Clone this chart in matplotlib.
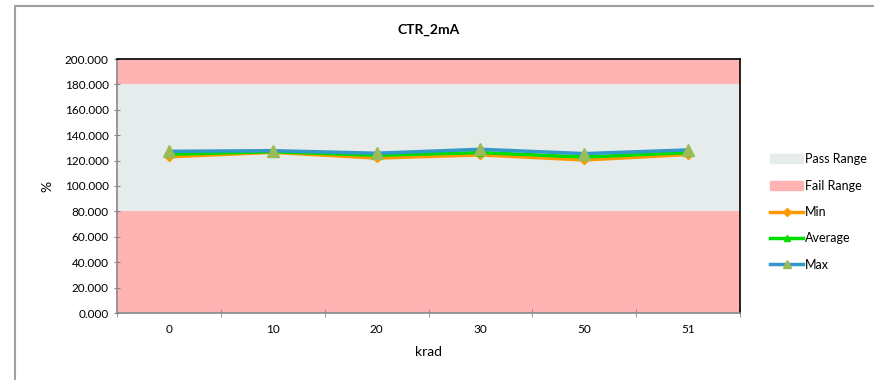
import matplotlib.pyplot as plt
from matplotlib.patches import Patch
from matplotlib.lines import Line2D
from matplotlib.patches import Rectangle

plt.rcParams['font.family'] = ['Lato', 'DejaVu Sans']

krad = ['0', '10', '20', '30', '50', '51']
ctr_min = [123.0, 126.5, 122.0, 124.5, 120.5, 124.8]
ctr_avg = [125.0, 127.0, 124.2, 126.3, 122.8, 126.3]
ctr_max = [127.3, 127.8, 125.8, 128.9, 125.5, 128.4]
pass_lo, pass_hi = 80, 180
y_max = 200

fig = plt.figure(figsize=(8.74, 3.8), dpi=100)
ax = fig.add_axes([117/874, 1-313/380, (740-117)/874, (313-59)/380])

x = range(len(krad))
xl = (-0.5, len(krad) - 0.5)
ax.fill_between(xl, 0, pass_lo, color='#FFB3B3', lw=0)
ax.fill_between(xl, pass_lo, pass_hi, color='#E5ECEB', lw=0)
ax.fill_between(xl, pass_hi, y_max, color='#FFB3B3', lw=0)

ax.plot(x, ctr_min, color='#FF9900', lw=2.5, marker='D', ms=4, mfc='#FF9900', mec='#FF9900')
ax.plot(x, ctr_avg, color='#00DD00', lw=2.5, marker='^', ms=5, mfc='#00DD00', mec='#00DD00')
ax.plot(x, ctr_max, color='#3399CC', lw=2.5, marker='^', ms=9, mfc='#9BBB59', mec='#9BBB59')

ax.set_xlim(xl)
ax.set_ylim(0, y_max)
ax.set_yticks(range(0, 201, 20))
ax.set_yticklabels(['%.3f' % v for v in range(0, 201, 20)])
ax.set_xticks(list(x))
ax.set_xticklabels(krad)
ax.set_xticks([i - 0.5 for i in range(len(krad) + 1)], minor=True)
ax.tick_params(axis='x', which='major', length=0, pad=8)
ax.tick_params(axis='x', which='minor', length=6, direction='inout', color='#888888')
ax.tick_params(axis='y', length=5, direction='inout', color='#888888')
ax.tick_params(labelsize=8.5)

for s in ['left', 'bottom']:
    ax.spines[s].set_color('#888888')
    ax.spines[s].set_linewidth(1.2)
for s in ['top', 'right']:
    ax.spines[s].set_color('black')
    ax.spines[s].set_linewidth(1.2)

ax.set_title('CTR_2mA', fontsize=10, fontweight='bold', pad=18)
ax.set_xlabel('krad', fontsize=10, labelpad=8)
ax.set_ylabel('%', fontsize=10, labelpad=8)

handles = [
    Patch(color='#E5ECEB', label='Pass Range'),
    Patch(color='#FFB3B3', label='Fail Range'),
    Line2D([], [], color='#FF9900', lw=2.5, marker='D', ms=4, label='Min'),
    Line2D([], [], color='#00DD00', lw=2.5, marker='^', ms=5, label='Average'),
    Line2D([], [], color='#3399CC', lw=2.5, marker='^', ms=6, mfc='#9BBB59', mec='#9BBB59', label='Max'),
]
fig.legend(handles=handles, loc='center left', bbox_to_anchor=(764/874, 1-212/380),
           frameon=False, fontsize=9, labelspacing=1.15, handlelength=2.6,
           handleheight=0.7, handletextpad=0.15, borderpad=0)

# chart border
fig.patches.append(Rectangle((15/874, -0.1), 1, 1 - 6/380 + 0.1, transform=fig.transFigure,
                             fill=False, ec='#A0A0A0', lw=1.5))

fig.savefig('out.png', dpi=100)
